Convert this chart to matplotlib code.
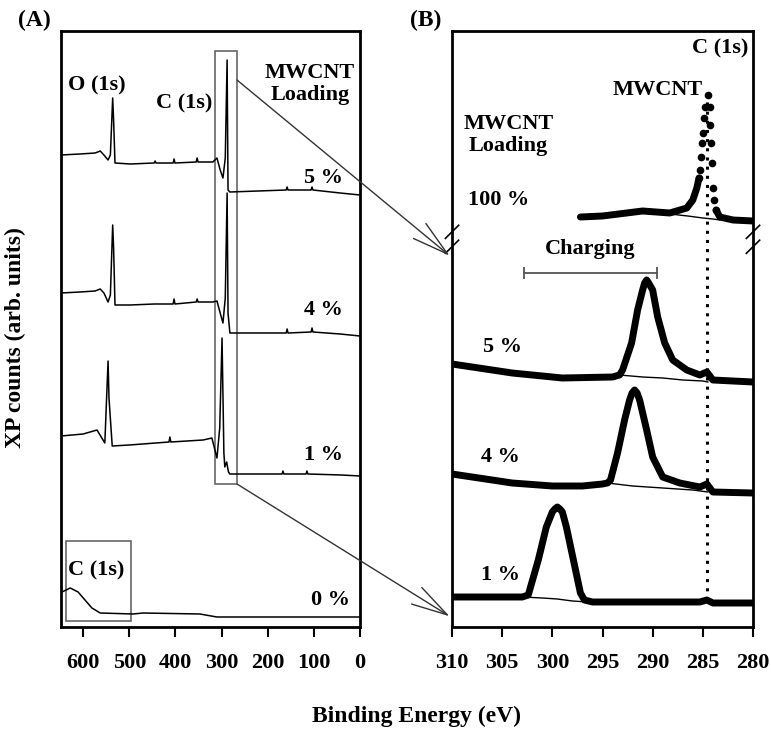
import numpy as np
import matplotlib
matplotlib.use('Agg')
import matplotlib.pyplot as plt
from matplotlib.patches import Rectangle, ConnectionPatch

plt.rcParams['font.family'] = ['Liberation Serif', 'DejaVu Serif']
plt.rcParams['font.weight'] = 'bold'

# ---------------- Panel A: survey spectra (energy eV, counts arb.) ----------------
a_ticks = [600, 500, 400, 300, 200, 100, 0]

a5_energy = [648, 607, 574, 563, 555, 546, 541, 536, 534, 531, 498, 446, 444, 442, 405, 403, 401,
             355, 353, 351, 319, 310, 303, 297, 292, 288, 286, 282, 160, 158, 156, 106, 104, 102, 43, 0]
a5_counts = [473, 474, 475, 477, 473, 468, 473, 530, 508, 465, 464, 465, 467, 465, 465, 469, 465,
             466, 470, 466, 466, 470, 458, 450, 470, 568, 438, 436, 438, 441, 438, 438, 441, 438, 435, 433]

a4_energy = [648, 607, 574, 563, 555, 546, 541, 536, 534, 531, 498, 446, 405, 403, 401,
             355, 353, 351, 319, 310, 303, 297, 292, 288, 286, 282, 160, 158, 156, 106, 104, 102, 43, 0]
a4_counts = [335, 336, 337, 339, 335, 326, 333, 403, 380, 323, 323, 324, 324, 329, 324,
             326, 329, 326, 326, 327, 315, 305, 330, 435, 315, 295, 295, 299, 295, 296, 300, 296, 294, 292]

a1_energy = [648, 600, 570, 553, 546, 544, 537, 500, 414, 412, 410, 340, 321, 310, 304, 299,
             295, 293, 289, 285, 282, 169, 167, 165, 117, 115, 113, 40, 0]
a1_counts = [192, 194, 198, 185, 267, 230, 182, 183, 186, 191, 186, 188, 190, 170, 200, 290,
             175, 161, 166, 156, 154, 154, 157, 154, 154, 157, 154, 153, 152]

a0_energy = [646, 628, 611, 596, 581, 563, 492, 470, 347, 310, 0]
a0_counts = [36, 40, 36, 28, 20, 15, 14, 15, 14, 11, 11]

zoom_box_energy = [314, 266.6]
zoom_box_counts = [144, 577]
c1s_box_energy = [637, 496]
c1s_box_counts = [7, 87]

# ---------------- Panel B: C(1s) high resolution ----------------
b_ticks = [310, 305, 300, 295, 290, 285, 280]

b1_energy = [310, 306, 303, 302.4, 301.4, 300.6, 300.0, 299.75, 299.5, 299.25, 299.0, 298.6, 297.9, 297.2,
             296.8, 296, 292, 288, 285.3, 284.6, 284.0, 280]
b1_counts = [31, 31, 31, 33, 68, 101, 116, 119, 121, 119, 116, 101, 68, 35, 28, 26, 26, 26, 26, 28, 25, 25]
b1_bg_energy = [303, 301, 299.5, 298, 296.5]
b1_bg_counts = [31, 30, 29, 27, 26]

b4_energy = [310, 306, 304, 300, 297, 295, 294.5, 294.2, 293.5, 292.8, 292.3, 292.05, 291.8, 291.55, 291.3,
             290.6, 290.0, 289.0, 287.3, 285.3, 284.6, 284.0, 280]
b4_counts = [154, 148, 145, 142, 142, 144, 145, 148, 175, 208, 228, 235, 238, 235, 228, 198, 171, 151, 145,
             141, 144, 136, 135]
b4_bg_energy = [294.5, 292, 289, 286, 284.5]
b4_bg_counts = [145, 142, 140, 138, 136]

b5_energy = [310, 306, 304, 299, 294, 293.3, 293.0, 292.1, 291.5, 291.0, 290.8, 290.6, 290.4, 290.0, 289.5,
             288.8, 288.0, 286.6, 285.3, 284.6, 284.0, 280]
b5_counts = [264, 258, 255, 250, 251, 253, 258, 285, 318, 338, 345, 348, 345, 338, 311, 285, 268, 258, 253,
             256, 248, 246]
b5_bg_energy = [293.3, 291, 289, 287, 285, 284.5]
b5_bg_counts = [253, 251, 250, 248, 247, 246]

b100_energy = [297.2, 295, 291, 288.3, 286.6, 286.0, 285.6, 285.38, 285.28, 285.18, 285.08, 284.98,
               284.88, 284.78, 284.48, 284.28, 284.25, 284.18, 284.08, 283.99, 283.89, 283.69,
               283.3, 282, 280]
b100_counts = [411, 412, 417, 415, 420, 428, 440, 450, 458, 471, 485, 495, 510, 521, 533, 521, 503,
               485, 465, 440, 428, 418, 411, 408, 407]
b100_bg_energy = [288.3, 286.5, 285, 284, 283.3]
b100_bg_counts = [414, 412, 410, 409, 408]

mwcnt_energy = 284.6
mwcnt_line_counts = [28, 533]
charging_energy = [302.8, 289.6]
charging_counts = 355

# ---------------- Figure ----------------
fig = plt.figure(figsize=(7.71, 7.29), dpi=100)
axA = fig.add_axes([61/771, 102/729, 299/771, 596/729])
axB = fig.add_axes([452/771, 102/729, 301/771, 596/729])

for ax in (axA, axB):
    for s in ax.spines.values():
        s.set_linewidth(2.0)
    ax.set_yticks([])
    ax.set_ylim(1, 597)
    ax.tick_params(axis='x', direction='out', length=7, width=1.5, labelsize=16, pad=12)

fs = 16

# Panel A
axA.set_xlim(648, 0)
axA.set_xticks(a_ticks)
axA.set_xticklabels([str(t) for t in a_ticks], fontweight='bold')
for e, c in [(a5_energy, a5_counts), (a4_energy, a4_counts), (a1_energy, a1_counts), (a0_energy, a0_counts)]:
    axA.plot(e, c, color='black', lw=1.1)
axA.add_patch(Rectangle((zoom_box_energy[1], zoom_box_counts[0]), zoom_box_energy[0] - zoom_box_energy[1],
                        zoom_box_counts[1] - zoom_box_counts[0], fill=False, ec='#666666', lw=1.2))
axA.add_patch(Rectangle((c1s_box_energy[1], c1s_box_counts[0]), c1s_box_energy[0] - c1s_box_energy[1],
                        c1s_box_counts[1] - c1s_box_counts[0], fill=False, ec='#666666', lw=1.2))
axA.text(570, 543, 'O (1s)', ha='center', va='center', fontsize=fs, fontweight='bold')
axA.text(381, 525, 'C (1s)', ha='center', va='center', fontsize=fs, fontweight='bold')
axA.text(108, 544, 'MWCNT\nLoading', ha='center', va='center', fontsize=fs, fontweight='bold', linespacing=1.15)
axA.text(80, 450, '5 %', ha='center', va='center', fontsize=fs, fontweight='bold')
axA.text(80, 318, '4 %', ha='center', va='center', fontsize=fs, fontweight='bold')
axA.text(80, 173, '1 %', ha='center', va='center', fontsize=fs, fontweight='bold')
axA.text(65, 28, '0 %', ha='center', va='center', fontsize=fs, fontweight='bold')
axA.text(572, 58, 'C (1s)', ha='center', va='center', fontsize=fs, fontweight='bold')

# Panel B
axB.set_xlim(310, 280)
axB.set_xticks(b_ticks)
axB.set_xticklabels([str(t) for t in b_ticks], fontweight='bold')
thick = dict(color='black', lw=5.0, solid_joinstyle='round', solid_capstyle='round')
axB.plot(b1_energy, b1_counts, **thick)
axB.plot(b4_energy, b4_counts, **thick)
axB.plot(b5_energy, b5_counts, **thick)
e100 = np.array(b100_energy)
c100 = np.array(b100_counts)
left = e100 >= 285.38
right = e100 <= 283.69
peak = (e100 < 285.6) & (e100 > 283.6)
axB.plot(e100[left], c100[left], **thick)
axB.plot(e100[right], c100[right], **thick)
axB.plot(e100[peak], c100[peak], 'o', color='black', ms=4.5, ls='none')
for e, c in [(b1_bg_energy, b1_bg_counts), (b4_bg_energy, b4_bg_counts),
             (b5_bg_energy, b5_bg_counts), (b100_bg_energy, b100_bg_counts)]:
    axB.plot(e, c, color='black', lw=1.0)
axB.plot([mwcnt_energy, mwcnt_energy], mwcnt_line_counts, color='black', lw=2.2, ls=(0, (1, 2)))
axB.plot(charging_energy, [charging_counts, charging_counts], color='#555555', lw=1.3)
axB.vlines(charging_energy, charging_counts - 6, charging_counts + 6, color='#555555', lw=1.3)
axB.text(np.mean(charging_energy), 379, 'Charging', ha='center', va='center', fontsize=fs, fontweight='bold')
axB.text(280.5, 580, 'C (1s)', ha='right', va='center', fontsize=fs, fontweight='bold')
axB.text(289.5, 538, 'MWCNT', ha='center', va='center', fontsize=fs, fontweight='bold')
axB.text(304.4, 493, 'MWCNT\nLoading', ha='center', va='center', fontsize=fs, fontweight='bold', linespacing=1.15)
axB.text(305.4, 428, '100 %', ha='center', va='center', fontsize=fs, fontweight='bold')
axB.text(305.0, 281, '5 %', ha='center', va='center', fontsize=fs, fontweight='bold')
axB.text(305.2, 171, '4 %', ha='center', va='center', fontsize=fs, fontweight='bold')
axB.text(305.2, 53, '1 %', ha='center', va='center', fontsize=fs, fontweight='bold')

# axis break marks
for xs in (0.0, 1.0):
    for yc in (0.663, 0.638):
        axB.plot([xs - 0.022, xs + 0.022], [yc - 0.011, yc + 0.011], transform=axB.transAxes,
                 color='black', lw=1.2, clip_on=False)

# zoom arrows
for yA, yB in [(548, 0.623), (zoom_box_counts[0], 0.018)]:
    con = ConnectionPatch(xyA=(zoom_box_energy[1], yA), coordsA=axA.transData,
                          xyB=(-0.008, yB), coordsB=axB.transAxes,
                          arrowstyle='->,head_length=2.6,head_width=0.7', mutation_scale=10,
                          color='#333333', lw=1.0)
    fig.add_artist(con)

fig.text(18/771, 1 - 20/729, '(A)', ha='left', va='center', fontsize=17, fontweight='bold')
fig.text(410/771, 1 - 20/729, '(B)', ha='left', va='center', fontsize=17, fontweight='bold')
fig.text(15/771, 1 - 338/729, 'XP counts (arb. units)', rotation=90, ha='center', va='center',
         fontsize=17, fontweight='bold')
fig.text(417/771, 1 - 716/729, 'Binding Energy (eV)', ha='center', va='center', fontsize=17, fontweight='bold')

fig.savefig('out.png', dpi=100)
